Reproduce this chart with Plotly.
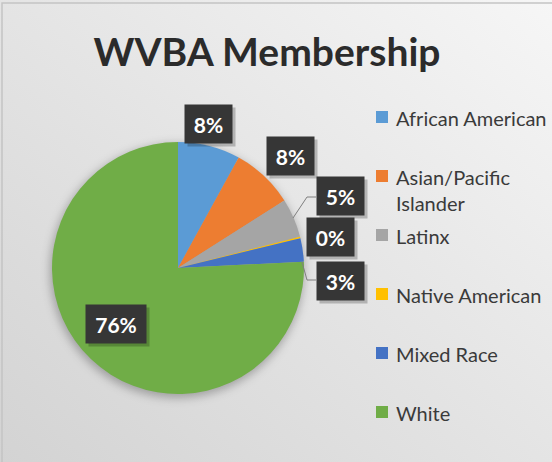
import base64
import plotly.graph_objects as go

# ---- data ----
categories = ["African American", "Asian/Pacific Islander", "Latinx",
              "Native American", "Mixed Race", "White"]
legend_labels = ["African American", "Asian/Pacific<br>Islander", "Latinx",
                 "Native American", "Mixed Race", "White"]
values = [8.0, 8.0, 5.0, 0.2, 3.0, 75.8]

# ---- style ----
colors = ["#5B9BD5", "#ED7D31", "#A5A5A5", "#FFC000", "#4472C4", "#70AD47"]
W, H = 552, 462
FONT = "Lato"

# pie placement in pixels (center & radius)
cx, cy, r = 178, 268, 126

# label box centers (pixels) and box widths
label_pos = [(208, 124), (290, 156), (340, 196), (330, 237), (340, 281), (116, 324)]
label_w = [43, 43, 43, 43, 43, 56]
# leader lines (pixel paths) for labels 2 (Latinx) and 4 (Mixed Race)
leaders = {2: [(293, 218), (307, 197), (316, 197)],
           4: [(302, 262), (307, 280), (316, 280)]}

# legend placement
leg_x_sq, leg_x_txt, leg_y0, leg_dy = 376, 394, 117, 59


def px(x):
    return x / W


def py(y):
    return 1 - y / H


# background: diagonal gradient + soft pie shadow (decoration only)
bg_svg = f"""<svg xmlns='http://www.w3.org/2000/svg' width='{W}' height='{H}' viewBox='0 0 {W} {H}'>
<defs>
<linearGradient id='g' x1='0' y1='1' x2='1' y2='0'>
<stop offset='0' stop-color='#d3d3d3'/><stop offset='0.55' stop-color='#e6e6e6'/><stop offset='1' stop-color='#f6f6f6'/>
</linearGradient>
<filter id='b' x='-20%' y='-20%' width='140%' height='140%'><feGaussianBlur stdDeviation='5'/></filter>
</defs>
<rect width='{W}' height='{H}' fill='url(#g)'/>
<circle cx='{cx - 1}' cy='{cy + 3}' r='{r + 1}' fill='rgba(0,0,0,0.28)' filter='url(#b)'/>
</svg>"""
bg_src = "data:image/svg+xml;base64," + base64.b64encode(bg_svg.encode()).decode()

fig = go.Figure()
fig.add_trace(go.Pie(
    labels=categories, values=values, marker=dict(colors=colors),
    sort=False, direction="clockwise", rotation=0,
    textinfo="none", hoverinfo="label+percent", showlegend=False,
    domain=dict(x=[px(cx - r), px(cx + r)], y=[py(cy + r), py(cy - r)]),
))

total = sum(values)
annotations = []
shapes = []
for i, v in enumerate(values):
    pct = round(v / total * 100)
    x, y = label_pos[i]
    # shadow
    annotations.append(dict(
        x=px(x + 3), y=py(y + 3), xref="paper", yref="paper", showarrow=False,
        text=" ", width=label_w[i], height=34, borderpad=2,
        bgcolor="rgba(0,0,0,0.22)", xanchor="center", yanchor="middle"))
    annotations.append(dict(
        x=px(x), y=py(y), xref="paper", yref="paper", showarrow=False,
        text=f"<b>{pct}%</b>", width=label_w[i], height=34, borderpad=2,
        bgcolor="#363636", font=dict(family=FONT, size=21, color="white"),
        xanchor="center", yanchor="middle"))

for i, pts in leaders.items():
    path = "M " + " L ".join(f"{px(a)},{py(b)}" for a, b in pts)
    shapes.append(dict(type="path", xref="paper", yref="paper", path=path,
                       line=dict(color="#7f7f7f", width=1)))

# legend
for i, lab in enumerate(legend_labels):
    yc = leg_y0 + i * leg_dy
    shapes.append(dict(type="rect", xref="paper", yref="paper",
                       x0=px(leg_x_sq), x1=px(leg_x_sq + 12),
                       y0=py(yc + 6), y1=py(yc - 6),
                       fillcolor=colors[i], line=dict(width=0)))
    annotations.append(dict(
        x=px(leg_x_txt), y=py(yc - 13), xref="paper", yref="paper",
        showarrow=False, text=lab, align="left",
        font=dict(family=FONT, size=20, color="#3a3a3a"),
        xanchor="left", yanchor="top"))

# outer border
shapes.append(dict(type="rect", xref="paper", yref="paper",
                   x0=px(2), x1=1.01, y0=-0.01, y1=py(3),
                   line=dict(color="#c4c4c4", width=1.5)))

fig.update_layout(
    width=W, height=H,
    margin=dict(l=0, r=0, t=0, b=0),
    paper_bgcolor="#e8e8e8", plot_bgcolor="#e8e8e8",
    images=[dict(source=bg_src, xref="paper", yref="paper", x=0, y=1,
                 sizex=1, sizey=1, xanchor="left", yanchor="top",
                 sizing="stretch", layer="below")],
    title=dict(text="<b>WVBA Membership</b>", x=267 / W, xanchor="center",
               y=py(52), yanchor="middle",
               font=dict(family=FONT, size=39, color="#2b2b2b")),
    annotations=annotations, shapes=shapes,
)

fig.write_html("out.html", config={"displayModeBar": False},
               post_script="document.body.style.margin='0';document.body.style.padding='0';")
